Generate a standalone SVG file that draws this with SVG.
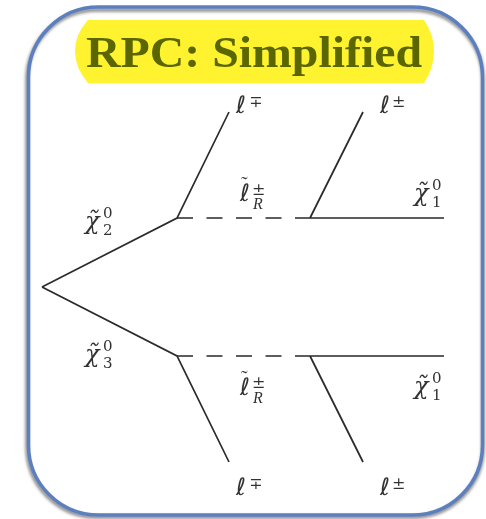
<svg xmlns="http://www.w3.org/2000/svg" width="486" height="519" viewBox="0 0 486 519">
<defs>
<filter id="shadow" x="-5%" y="-5%" width="110%" height="110%"><feGaussianBlur stdDeviation="1.6"/></filter>
<filter id="soft" x="-5%" y="-5%" width="110%" height="110%"><feGaussianBlur stdDeviation="0.5"/></filter>
</defs>
<style>
.ln{stroke:#2a2a2a;stroke-width:1.7;fill:none}
.dash{stroke-dasharray:16 13.5}
.m{font-family:"DejaVu Serif","Liberation Serif",serif;fill:#333}
.ell{font-family:"DejaVu Sans",sans-serif;font-size:24px;font-style:italic}
.til{font-family:"Liberation Serif",serif;font-size:20px}
.chi{font-size:24px;font-style:italic}
.s{font-size:15px}
.q{font-size:16px}
.r{font-family:"Liberation Serif",serif;font-size:16px;font-style:italic}
</style>
<rect width="486" height="519" fill="#fff"/>
<g id="frame">
<rect x="27" y="10" width="456" height="507" rx="70" fill="none" stroke="#888" stroke-width="3.5" filter="url(#shadow)"/>
<rect x="28.5" y="7" width="454" height="508" rx="70" fill="none" stroke="#5b7fbf" stroke-width="3.5"/>
</g>
<g id="title">
<path d="M88 20H424Q434 34 434 51Q434 68 424 83H88Q75 68 75 51Q75 34 88 20Z" fill="#fff22e"/>
<text x="86" y="67" font-family="Liberation Serif,serif" font-weight="bold" font-size="44" fill="#5a6600" textLength="336" lengthAdjust="spacingAndGlyphs" filter="url(#soft)">RPC: Simplified</text>
</g>
<g id="connectors" filter="url(#soft)">
<path class="ln" d="M42 287L177 218L229 112M42 287L177 356L229 462"/>
<path class="ln dash" d="M177 218H295M177 356H295"/>
<path class="ln" d="M295 218H444M310 218L363 112M295 356H444M310 356L363 462"/>
</g>
<g id="labels" filter="url(#soft)">
<g id="l1" class="m"><text class="ell" x="236" y="113">ℓ</text><text class="q" x="249" y="107">∓</text></g>
<g id="l2" class="m"><text class="ell" x="380" y="113">ℓ</text><text class="q" x="392" y="107">±</text></g>
<g id="l3" class="m"><text class="ell" x="236" y="495">ℓ</text><text class="q" x="249" y="489">∓</text></g>
<g id="l4" class="m"><text class="ell" x="380" y="495">ℓ</text><text class="q" x="392" y="489">±</text></g>
<g id="slep1" class="m"><text class="ell" x="240" y="201">ℓ</text><text class="til" x="241" y="191">˜</text><text class="q" x="252" y="195">±</text><text class="r" x="253" y="209">R</text></g>
<g id="slep2" class="m"><text class="ell" x="240" y="395">ℓ</text><text class="til" x="241" y="385">˜</text><text class="q" x="252" y="388">±</text><text class="r" x="253" y="403">R</text></g>
<g id="n2" class="m"><text class="chi" x="85" y="229">χ̃</text><text class="s" x="103" y="218">0</text><text class="s" x="103" y="235">2</text></g>
<g id="n3" class="m"><text class="chi" x="85" y="362">χ̃</text><text class="s" x="103" y="351">0</text><text class="s" x="103" y="368">3</text></g>
<g id="n1a" class="m"><text class="chi" x="414" y="201">χ̃</text><text class="s" x="432" y="190">0</text><text class="s" x="432" y="207">1</text></g>
<g id="n1b" class="m"><text class="chi" x="414" y="394">χ̃</text><text class="s" x="432" y="383">0</text><text class="s" x="432" y="400">1</text></g>
</g>
</svg>
